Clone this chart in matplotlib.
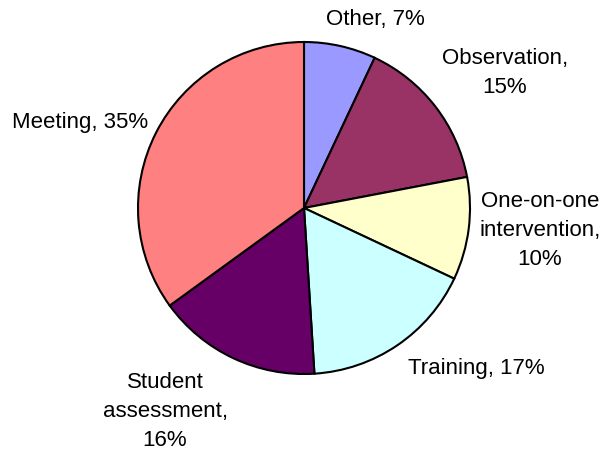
import matplotlib
matplotlib.use("Agg")
import matplotlib.pyplot as plt

categories = ["Other", "Observation", "One-on-one\nintervention", "Training",
              "Student\nassessment", "Meeting"]
percentages = [7, 15, 10, 17, 16, 35]
colors = ["#9999FF", "#993366", "#FFFFCC", "#CCFFFF", "#660066", "#FF8080"]
label_texts = ["Other, 7%", "Observation,\n15%", "One-on-one\nintervention,\n10%",
               "Training, 17%", "Student\nassessment,\n16%", "Meeting, 35%"]
# label anchor positions in units of the pie radius
label_pos = [(0.428, 1.133), (1.211, 0.813), (1.422, -0.133),
             (1.036, -0.964), (-0.837, -1.223), (-1.349, 0.518)]

plt.rcParams["font.family"] = ["Liberation Sans", "DejaVu Sans"]

W, H, dpi = 605, 453, 100
fig = plt.figure(figsize=(W / dpi, H / dpi), dpi=dpi)
ax = fig.add_axes([0, 0, 1, 1])

cx, cy, r = 304, 208, 166
ax.pie(percentages, colors=colors, startangle=90, counterclock=False,
       radius=1.0, wedgeprops=dict(edgecolor="black", linewidth=1.5))

for txt, (x, y) in zip(label_texts, label_pos):
    ax.text(x, y, txt, ha="center", va="center", fontsize=16,
            linespacing=1.5, color="black")

ax.set_xlim(-cx / r, (W - cx) / r)
ax.set_ylim(-(H - cy) / r, cy / r)
ax.set_aspect("equal")
ax.axis("off")

fig.savefig("out.png", dpi=dpi)
